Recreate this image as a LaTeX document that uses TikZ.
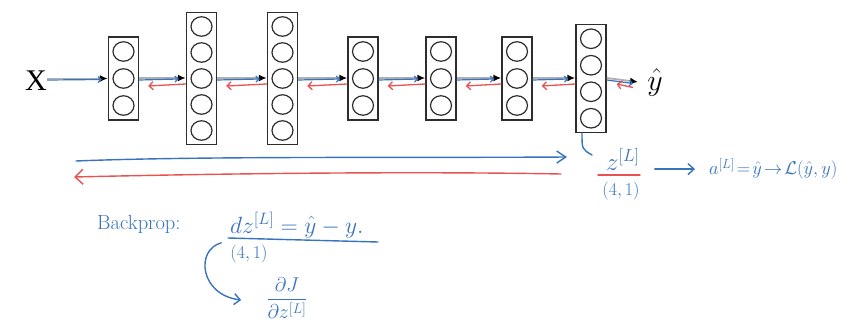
\RequirePackage{fix-cm}
\documentclass[tikz,border=0pt]{standalone}
\usepackage{amsmath}
\usepackage{fontspec}
\newfontfamily\timesfont{Liberation Serif}
\usetikzlibrary{arrows.meta,shapes.geometric}
\definecolor{hwblue}{RGB}{55,115,190}
\definecolor{hwred}{RGB}{232,82,82}
\definecolor{boxgray}{RGB}{45,45,45}
\definecolor{lngray}{RGB}{175,175,175}
\begin{document}
\begin{tikzpicture}[x=1pt,y=-1pt,
  layerbox/.style={draw=boxgray, line width=1.4pt, minimum width=30pt, inner sep=0pt},
  neuron/.style={ellipse, draw=boxgray, line width=1.2pt, minimum width=21pt, minimum height=19.5pt, inner sep=0pt},
  fwd/.style={draw=lngray, line width=1.8pt, -{Latex[black,length=8pt,width=7pt]}},
  fwdblue/.style={draw=hwblue, line width=1.2pt, -{Straight Barb[length=3pt,width=6pt]}},
  bwdred/.style={draw=hwred, line width=1.3pt, -{Straight Barb[length=4pt,width=8pt]}},
  hw/.style={text=hwblue, inner sep=0pt},
  hwline/.style={draw=hwblue, line width=1.4pt, line cap=round},
  hwarrow/.style={draw=hwblue, line width=1.4pt, line cap=round, -{Straight Barb[length=6pt,width=11pt]}},
  hwredarrow/.style={draw=hwred, line width=1.4pt, line cap=round, -{Straight Barb[length=8pt,width=15pt]}}
]
\fill[white] (0,0) rectangle (865,326);
\useasboundingbox (0,0) rectangle (865,326);

% layers
\foreach \name/\x/\n/\sp in {B1/123.5/3/27, B2/201.5/5/26, B3/282.5/5/26, B4/363/3/27, B5/441/3/27, B6/517/3/27, B7/591/4/26.5} {
  \pgfmathsetmacro{\h}{\n*\sp+2}
  \node[layerbox, minimum height=\h pt] (\name) at (\x,78.5) {};
  \foreach \k in {1,...,\n} {
    \pgfmathsetmacro{\yy}{78.5+(\k-(\n+1)/2)*\sp}
    \node[neuron] (\name-\k) at (\x,\yy) {};
  }
}

% input / output labels
\node[inner sep=0pt, font=\timesfont\fontsize{30}{30}\selectfont] (X) at (36,81) {X};
\node[inner sep=0pt, font=\fontsize{30}{30}\selectfont] (yhat) at (655,82.5) {$\hat{y}$};

% X -> B1
\draw[fwd] (X.east |- B1.west) -- (B1.west);
\draw[fwdblue] ([yshift=-1.5pt]X.east |- B1.west) -- ([xshift=-6pt,yshift=-1pt]B1.west);

% layer to layer
\foreach \a/\b in {B1/B2,B2/B3,B3/B4,B4/B5,B5/B6,B6/B7} {
  \draw[fwd] ([yshift=0.5pt]\a.east) -- ([yshift=0.5pt]\b.west);
  \draw[fwdblue] ([yshift=-1.5pt]\a.east) -- ([xshift=-7pt,yshift=-0.5pt]\b.west);
  \draw[bwdred] ([yshift=-5.5pt]\b.west) -- ([xshift=9pt,yshift=-7.5pt]\a.east);
}

% B7 -> yhat
\draw[fwd] ([yshift=0.5pt]B7.east) -- ([xshift=-9pt,yshift=0.5pt]yhat.west);
\draw[fwdblue] ([yshift=-1.5pt]B7.east) -- ([xshift=-14pt,yshift=-1pt]yhat.west);
\draw[bwdred] ([xshift=-14pt,yshift=-5pt]yhat.west) -- ([xshift=10pt,yshift=-5.5pt]B7.east);

% long forward / backward strokes
\coordinate (fS) at (76,161);
\coordinate (fE) at (567,157);
\coordinate (bS) at (561,174);
\coordinate (bE) at (74,177);
\draw[hwarrow, -{Straight Barb[length=9pt,width=12pt]}] (fS) .. controls (200,156) and (400,158) .. (fE);
\draw[hwredarrow] (bS) .. controls (400,171) and (200,174) .. (bE);

% z^[L]
\node[hw, font=\fontsize{25}{28}\selectfont, anchor=base west] (zL) at (606,171) {$z^{[L]}$};
\draw[hwred, line width=1.4pt, line cap=round] (598,175) -- (640,175);
\node[hw, font=\fontsize{18}{20}\selectfont] (zdim) at (621,191) {$(4,1)$};
\coordinate (zc) at (592,155);
\draw[hwline] ([xshift=-9pt]B7.south) .. controls ([xshift=-9pt,yshift=-16pt]B7.south) .. (zc);

\node[hw, font=\fontsize{18.5}{21}\selectfont, anchor=base west] (aL) at (709,175) {$a^{[L]}\!=\!\hat{y}\!\to\!\mathcal{L}(\hat{y},y)$};
\draw[hwarrow] ([xshift=15pt]zL.east |- aL.west) -- ([xshift=-14pt]aL.west);

% backprop
\node[hw, font=\fontsize{20.5}{24}\selectfont, anchor=base west] (bp) at (97,229) {Backprop:};
\node[hw, font=\fontsize{23.5}{27}\selectfont, anchor=base west] (dz) at (230,233) {$dz^{[L]}=\hat{y}-y.$};
\draw[hwline] (228,238) -- (378,242);
\node[hw, font=\fontsize{18}{20}\selectfont] (dzdim) at (249,254) {$(4,1)$};
\node[hw, font=\fontsize{20}{22}\selectfont] (dJ) at (287,298) {$\dfrac{\partial J}{\partial z^{[L]}}$};
\draw[hwarrow] ([xshift=-9pt,yshift=2pt]dzdim.north west) .. controls (195,250) and (200,295) .. ([xshift=-25pt,yshift=-2pt]dJ.west);
\end{tikzpicture}
\end{document}
